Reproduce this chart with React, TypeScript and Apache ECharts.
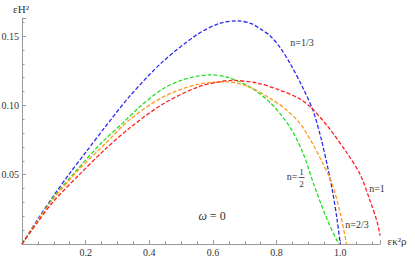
import React, { useEffect, useRef } from "react";
import * as echarts from "echarts";

// n = 1/3 (blue)
const n13: number[][] = [
  [0, 0], [0.05, 0.018], [0.1, 0.035], [0.15, 0.051], [0.2, 0.066], [0.26, 0.084],
  [0.34, 0.107], [0.44, 0.131], [0.55, 0.151], [0.62, 0.159], [0.676, 0.161],
  [0.72, 0.159], [0.75, 0.155], [0.78, 0.15], [0.81, 0.142], [0.843, 0.13],
  [0.884, 0.112], [0.915, 0.096], [0.94, 0.076], [0.96, 0.056], [0.975, 0.039],
  [0.99, 0.018], [1.0, 0],
];
// n = 1/2 (green)
const n12: number[][] = [
  [0, 0], [0.05, 0.017], [0.1, 0.034], [0.167, 0.052], [0.25, 0.073], [0.32, 0.088],
  [0.37, 0.099], [0.443, 0.112], [0.5, 0.118], [0.55, 0.121], [0.59, 0.122],
  [0.65, 0.12], [0.717, 0.113], [0.78, 0.102], [0.843, 0.084], [0.884, 0.065],
  [0.92, 0.041], [0.96, 0.017], [0.995, 0],
];
// n = 2/3 (orange)
const n23: number[][] = [
  [0, 0], [0.05, 0.017], [0.1, 0.033], [0.18, 0.054], [0.26, 0.072], [0.34, 0.09],
  [0.443, 0.106], [0.55, 0.115], [0.645, 0.117], [0.717, 0.113], [0.78, 0.105],
  [0.83, 0.097], [0.88, 0.085], [0.937, 0.062], [0.975, 0.043], [1.0, 0.022], [1.02, 0],
];
// n = 1 (red)
const n1: number[][] = [
  [0, 0], [0.05, 0.016], [0.1, 0.031], [0.18, 0.05], [0.26, 0.068], [0.34, 0.084],
  [0.443, 0.101], [0.55, 0.113], [0.62, 0.117], [0.66, 0.118], [0.74, 0.116],
  [0.81, 0.111], [0.87, 0.105], [0.906, 0.099], [0.96, 0.085], [1.02, 0.066],
  [1.063, 0.05], [1.094, 0.031], [1.116, 0.016], [1.125, 0.006],
];

const xTicks = [0.2, 0.4, 0.6, 0.8, 1.0];
const yTicks = [0.05, 0.1, 0.15];

const SERIF = "Liberation Serif";
const AXIS_COLOR = "#9a9a9a";
const LABEL_COLOR = "#333";

export default function App() {
  const ref = useRef<HTMLDivElement>(null);
  useEffect(() => {
    if (!ref.current) return;
    const chart = echarts.init(ref.current, null, { renderer: "svg" });
    const mk = (name: string, data: number[][], color: string) => ({
      name,
      type: "line",
      data,
      smooth: 0.3,
      showSymbol: false,
      symbol: "none",
      lineStyle: { color, width: 1.3, type: [4, 2] },
    });
    const txt = (text: string, x: number, y: number, size = 10, extra: any = {}) => ({
      type: "text",
      x,
      y,
      style: {
        text,
        fill: LABEL_COLOR,
        fontFamily: SERIF,
        fontSize: size,
        align: "center",
        verticalAlign: "middle",
        ...extra,
      },
    });
    chart.setOption({
      animation: false,
      grid: { left: 22, right: 35, top: 18, bottom: 14, containLabel: false, outerBoundsMode: "none" },
      xAxis: {
        type: "value",
        min: 0,
        max: 1.125,
        interval: 0.2,
        axisLine: { lineStyle: { color: AXIS_COLOR, width: 1 } },
        axisTick: { show: true, inside: true, length: 4, lineStyle: { color: AXIS_COLOR } },
        minorTick: { show: true, splitNumber: 4, length: 2.5, lineStyle: { color: AXIS_COLOR } },
        splitLine: { show: false },
        axisLabel: {
          showMinLabel: false,
          showMaxLabel: false,
          margin: 3,
          color: LABEL_COLOR,
          fontFamily: SERIF,
          fontSize: 10,
          formatter: (v: number) => (xTicks.some((t) => Math.abs(t - v) < 1e-6) ? v.toFixed(1) : ""),
        },
      },
      yAxis: {
        type: "value",
        min: 0,
        max: 0.163,
        interval: 0.05,
        axisLine: { lineStyle: { color: AXIS_COLOR, width: 1 } },
        axisTick: { show: true, inside: true, length: 4, lineStyle: { color: AXIS_COLOR } },
        minorTick: { show: true, splitNumber: 5, length: 2.5, lineStyle: { color: AXIS_COLOR } },
        splitLine: { show: false },
        axisLabel: {
          showMinLabel: false,
          showMaxLabel: false,
          margin: 3,
          color: LABEL_COLOR,
          fontFamily: SERIF,
          fontSize: 10,
          formatter: (v: number) => (yTicks.some((t) => Math.abs(t - v) < 1e-6) ? v.toFixed(2) : ""),
        },
      },
      series: [
        mk("n=1/3", n13, "#2a2af0"),
        mk("n=1/2", n12, "#22e022"),
        mk("n=2/3", n23, "#ff9a1a"),
        mk("n=1", n1, "#ff2020"),
      ],
      graphic: [
        txt("εH²", 21, 9, 11),
        txt("εκ²ρ", 397, 241, 11),
        txt("n=1/3", 302, 42, 10),
        txt("n=1", 377, 188, 10),
        txt("n=2/3", 357, 224, 10),
        txt("n=", 292, 176, 10),
        txt("1", 301.5, 171.5, 9),
        {
          type: "line",
          shape: { x1: 298.5, y1: 177.5, x2: 304.5, y2: 177.5 },
          style: { stroke: LABEL_COLOR, lineWidth: 0.8 },
        },
        txt("2", 301.5, 183.5, 9),
        {
          type: "text",
          x: 212,
          y: 216,
          style: {
            text: "{i|ω} = 0",
            fill: LABEL_COLOR,
            fontFamily: SERIF,
            fontSize: 12,
            align: "center",
            verticalAlign: "middle",
            rich: {
              i: { fontFamily: SERIF, fontSize: 12, fontStyle: "italic", fill: LABEL_COLOR },
            },
          },
        },
      ],
    });
    return () => chart.dispose();
  }, []);
  return (
    <div
      ref={ref}
      style={{ position: "fixed", left: 0, top: 0, width: 415, height: 258, background: "#fff" }}
    />
  );
}
